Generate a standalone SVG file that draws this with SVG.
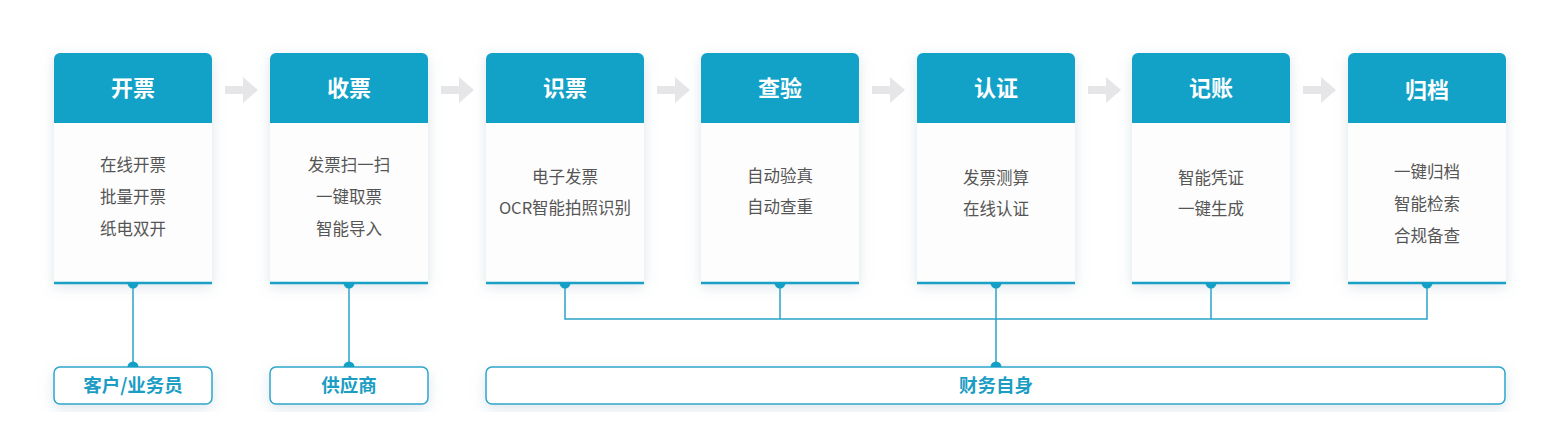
<svg xmlns="http://www.w3.org/2000/svg" width="1566" height="446" viewBox="0 0 1566 446">
<defs>
<filter id="sh" x="-20%" y="-20%" width="140%" height="140%">
<feDropShadow dx="0" dy="4" stdDeviation="7" flood-color="#8aa4b4" flood-opacity="0.28"/>
</filter>
<path id="arr" d="M0,-4 H18 V-13 L33,0 L18,13 V4 H0 Z" fill="#e6e6e8"/>
<path id="hdr" d="M0,6 A6,6 0 0 1 6,0 H152 A6,6 0 0 1 158,6 V70 H0 Z" fill="#12a2c8"/>
<path id="dn" d="M-5.5,0 A5.5,5.5 0 0 0 5.5,0 Z" fill="#139fc6"/>
<path id="up" d="M-5.5,0 A5.5,5.5 0 0 1 5.5,0 Z" fill="#139fc6"/>
</defs>
<style>
.card{fill:#fdfdfd}
.ht{font-family:"Noto Sans CJK SC",sans-serif;font-size:22px;font-weight:bold;fill:#ffffff;text-anchor:middle}
.bt{font-family:"Noto Sans CJK SC",sans-serif;font-size:16.5px;fill:#555555;text-anchor:middle}
.base{stroke:#1a9fc6;stroke-width:2.5}
.box{fill:#ffffff;stroke:#2aa6cb;stroke-width:1.5}
.lt{font-family:"Noto Sans CJK SC",sans-serif;font-size:18.5px;font-weight:bold;fill:#1c9dc4;text-anchor:middle}
.ln{stroke:#2aa3c8;stroke-width:1.5;fill:none}
</style>
<rect width="1566" height="446" fill="#ffffff"/>
<g id="arrows">
<use href="#arr" x="225" y="90"/>
<use href="#arr" x="441" y="90"/>
<use href="#arr" x="657" y="90"/>
<use href="#arr" x="872" y="90"/>
<use href="#arr" x="1088" y="90"/>
<use href="#arr" x="1303" y="90"/>
</g>
<g id="connectors">
<line class="ln" x1="133" y1="285" x2="133" y2="367"/>
<line class="ln" x1="349" y1="285" x2="349" y2="367"/>
<polyline class="ln" points="565,285 565,319 1427,319 1427,285"/>
<line class="ln" x1="780" y1="285" x2="780" y2="319"/>
<line class="ln" x1="1211" y1="285" x2="1211" y2="319"/>
<line class="ln" x1="996" y1="285" x2="996" y2="367"/>
</g>
<g id="n1">
<rect class="card" x="54" y="53" width="158" height="230" filter="url(#sh)"/>
<use href="#hdr" x="54" y="53"/>
<text class="ht" x="133" y="96">开票</text>
<text class="bt" x="133" y="171">在线开票</text>
<text class="bt" x="133" y="203">批量开票</text>
<text class="bt" x="133" y="235">纸电双开</text>
<line class="base" x1="54" y1="283" x2="212" y2="283"/>
<use href="#dn" x="133" y="283"/>
</g>
<g id="n2">
<rect class="card" x="270" y="53" width="158" height="230" filter="url(#sh)"/>
<use href="#hdr" x="270" y="53"/>
<text class="ht" x="349" y="96">收票</text>
<text class="bt" x="349" y="171">发票扫一扫</text>
<text class="bt" x="349" y="203">一键取票</text>
<text class="bt" x="349" y="235">智能导入</text>
<line class="base" x1="270" y1="283" x2="428" y2="283"/>
<use href="#dn" x="349" y="283"/>
</g>
<g id="n3">
<rect class="card" x="486" y="53" width="158" height="230" filter="url(#sh)"/>
<use href="#hdr" x="486" y="53"/>
<text class="ht" x="565" y="96">识票</text>
<text class="bt" x="565" y="183">电子发票</text>
<text class="bt" x="565" y="214">OCR智能拍照识别</text>
<line class="base" x1="486" y1="283" x2="644" y2="283"/>
<use href="#dn" x="565" y="283"/>
</g>
<g id="n4">
<rect class="card" x="701" y="53" width="158" height="230" filter="url(#sh)"/>
<use href="#hdr" x="701" y="53"/>
<text class="ht" x="780" y="96">查验</text>
<text class="bt" x="780" y="182">自动验真</text>
<text class="bt" x="780" y="213">自动查重</text>
<line class="base" x1="701" y1="283" x2="859" y2="283"/>
<use href="#dn" x="780" y="283"/>
</g>
<g id="n5">
<rect class="card" x="917" y="53" width="158" height="230" filter="url(#sh)"/>
<use href="#hdr" x="917" y="53"/>
<text class="ht" x="996" y="96">认证</text>
<text class="bt" x="996" y="184">发票测算</text>
<text class="bt" x="996" y="215">在线认证</text>
<line class="base" x1="917" y1="283" x2="1075" y2="283"/>
<use href="#dn" x="996" y="283"/>
</g>
<g id="n6">
<rect class="card" x="1132" y="53" width="158" height="230" filter="url(#sh)"/>
<use href="#hdr" x="1132" y="53"/>
<text class="ht" x="1211" y="96">记账</text>
<text class="bt" x="1211" y="184">智能凭证</text>
<text class="bt" x="1211" y="215">一键生成</text>
<line class="base" x1="1132" y1="283" x2="1290" y2="283"/>
<use href="#dn" x="1211" y="283"/>
</g>
<g id="n7">
<rect class="card" x="1348" y="53" width="158" height="230" filter="url(#sh)"/>
<use href="#hdr" x="1348" y="53"/>
<text class="ht" x="1427" y="98">归档</text>
<text class="bt" x="1427" y="178">一键归档</text>
<text class="bt" x="1427" y="210">智能检索</text>
<text class="bt" x="1427" y="242">合规备查</text>
<line class="base" x1="1348" y1="283" x2="1506" y2="283"/>
<use href="#dn" x="1427" y="283"/>
</g>
<g id="b1">
<rect class="box" x="54" y="367" width="158" height="37" rx="6" filter="url(#sh)"/>
<use href="#up" x="133" y="367"/>
<text class="lt" x="133" y="392">客户/业务员</text>
</g>
<g id="b2">
<rect class="box" x="270" y="367" width="158" height="37" rx="6" filter="url(#sh)"/>
<use href="#up" x="349" y="367"/>
<text class="lt" x="349" y="392">供应商</text>
</g>
<g id="b3">
<rect class="box" x="486" y="367" width="1019" height="37" rx="6" filter="url(#sh)"/>
<use href="#up" x="996" y="367"/>
<text class="lt" x="996" y="392">财务自身</text>
</g>
</svg>
